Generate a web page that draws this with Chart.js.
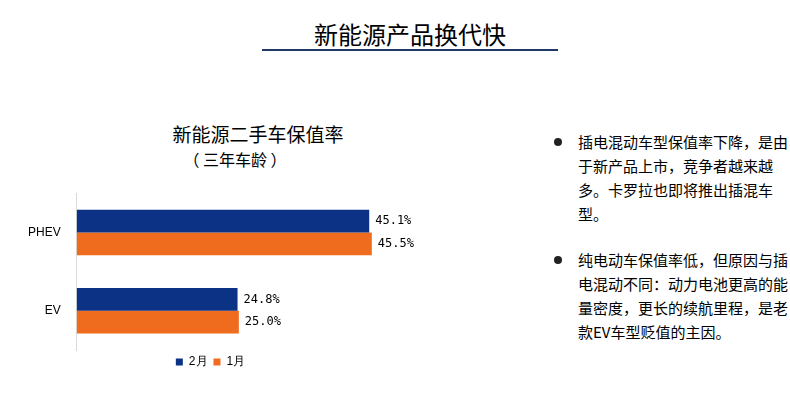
<!DOCTYPE html><html><head><meta charset="utf-8">
<script src="https://cdn.jsdelivr.net/npm/chart.js@4"></script>
<style>
body{margin:0;width:790px;height:413px;background:#fff;font-family:"Noto Sans CJK SC",sans-serif;position:relative;overflow:hidden}
.t{position:absolute;white-space:nowrap;color:#000}
#wrap{position:absolute;left:0;top:178px;width:420px;height:200px}
ul{position:absolute;left:548px;top:130px;margin:0;padding:0;list-style:none;font-size:15px;line-height:24px;width:240px}
li{position:relative;padding-left:30px;margin-bottom:22px}
li:before{content:"";position:absolute;left:6px;top:8px;width:8px;height:8px;border-radius:50%;background:#222}
</style></head><body>
<div class="t" style="left:0;width:820px;text-align:center;top:16px;font-size:24px">新能源产品换代快</div>
<div style="position:absolute;left:262px;top:49px;width:296px;height:2px;background:#1f3864"></div>
<div class="t" style="left:0;width:516px;text-align:center;top:120px;font-size:19px">新能源二手车保值率</div>
<div class="t" style="left:0;width:470px;text-align:center;top:147px;font-size:16px">（ 三年车龄 ）</div>
<div id="wrap"><canvas id="c"></canvas></div>
<ul><li>插电混动车型保值率下降，是由于新产品上市，竞争者越来越多。卡罗拉也即将推出插混车型。</li>
<li>纯电动车保值率低，但原因与插电混动不同：动力电池更高的能量密度，更长的续航里程，是老款EV车型贬值的主因。</li></ul>
<script>
const categories=["PHEV","EV"];
const feb=[45.1,24.8];
const jan=[45.5,25.0];
const seriesNames=["2月","1月"];
const lbl={id:"lbl",afterDatasetsDraw(ch){const c=ch.ctx;c.save();c.font="12px 'DejaVu Sans Mono',monospace";c.fillStyle="#000";c.textBaseline="middle";
ch.data.datasets.forEach((d,i)=>ch.getDatasetMeta(i).data.forEach((b,j)=>c.fillText(d.data[j].toFixed(1)+"%",b.x+6,b.y)));c.restore();}};
new Chart(document.getElementById("c"),{type:"bar",plugins:[lbl],
data:{labels:categories,datasets:[{label:seriesNames[0],data:feb,backgroundColor:"#0b3285"},{label:seriesNames[1],data:jan,backgroundColor:"#ef6c1e"}]},
options:{indexAxis:"y",responsive:true,maintainAspectRatio:false,animation:false,
layout:{padding:{left:20,top:8,right:19}},
datasets:{bar:{barPercentage:1,categoryPercentage:0.58}},
scales:{x:{min:0,max:50,display:false},y:{grid:{display:false},border:{color:"#d9d9d9"},ticks:{color:"#000",font:{size:12},padding:8}}},
plugins:{tooltip:{enabled:false},legend:{position:"bottom",labels:{boxWidth:7,boxHeight:7,color:"#000",font:{size:12},padding:6}}}}});
</script></body></html>
